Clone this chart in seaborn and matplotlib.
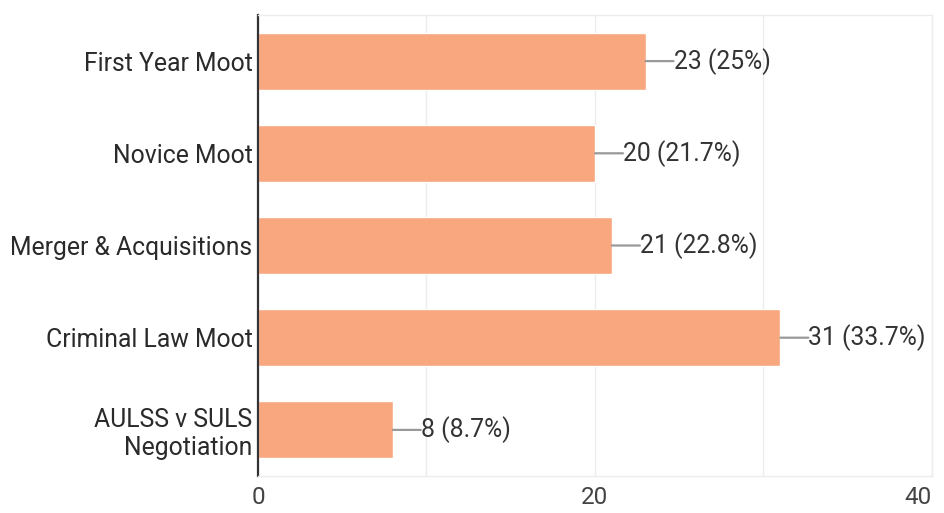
import matplotlib
matplotlib.use("Agg")
import matplotlib.pyplot as plt
import seaborn as sns
import pandas as pd

categories = ["First Year Moot", "Novice Moot", "Merger & Acquisitions",
              "Criminal Law Moot", "AULSS v SULS\nNegotiation"]
counts = [23, 20, 21, 31, 8]
percents = ["25%", "21.7%", "22.8%", "33.7%", "8.7%"]
x_ticks = [0, 20, 40]
x_grid_minor = [10, 30]

sns.set_theme(style="white")
plt.rcParams["font.family"] = ["Roboto", "DejaVu Sans"]

df = pd.DataFrame({"event": categories, "count": counts})

fig = plt.figure(figsize=(9.45, 5.13), dpi=100)
ax = fig.add_axes([258 / 945, 1 - 476 / 513, 674 / 945, 461 / 513])

sns.barplot(data=df, y="event", x="count", orient="h", color="#F8A77F",
            saturation=1, width=0.62, ax=ax)

ax.set_xlim(0, 40)
ax.set_xticks(x_ticks)
ax.set_xticks(x_grid_minor, minor=True)
ax.grid(True, axis="x", which="both", color="#ececec", linewidth=1.0)
ax.set_axisbelow(True)
ax.set_xlabel("")
ax.set_ylabel("")

for side in ["top", "right", "bottom"]:
    ax.spines[side].set_color("#ececec")
    ax.spines[side].set_linewidth(1.0)
ax.spines["left"].set_color("#333333")
ax.spines["left"].set_linewidth(1.6)

ax.tick_params(axis="x", which="both", length=0, pad=7, labelsize=17.5,
               labelcolor="#444444")
ax.tick_params(axis="y", length=0, pad=4, labelsize=17.8, labelcolor="#2a2a2a")
for lbl in ax.get_yticklabels():
    lbl.set_linespacing(1.2)
# keep the last tick label inside the canvas
xt = ax.get_xticklabels()
xt[-1].set_horizontalalignment("right")
xt[-1].set_x(40)

for i, (v, p) in enumerate(zip(counts, percents)):
    ax.annotate("", xy=(v, i), xytext=(28, 0), textcoords="offset pixels",
                arrowprops=dict(arrowstyle="-", color="#999999", lw=1.6,
                                shrinkA=0, shrinkB=0))
    ax.annotate(f"{v} ({p})", xy=(v, i), xytext=(28, 0),
                textcoords="offset pixels", va="center", ha="left",
                fontsize=17.8, color="#333333")

fig.savefig("out.png", dpi=100)
